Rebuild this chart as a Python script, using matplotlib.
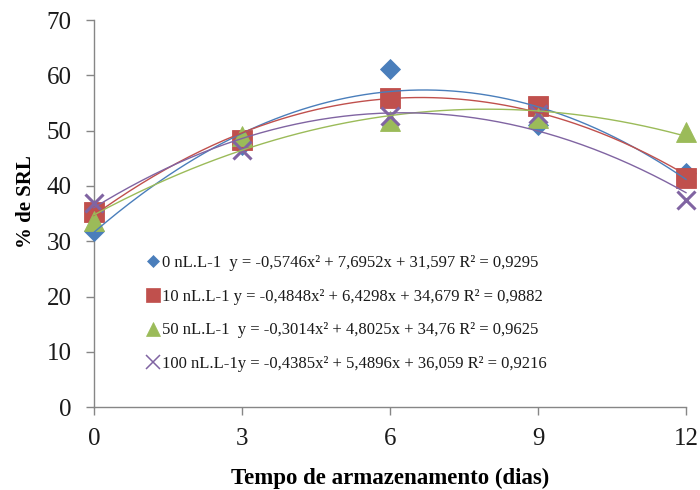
import matplotlib
matplotlib.use("Agg")
import matplotlib.pyplot as plt
from matplotlib.lines import Line2D
import numpy as np

plt.rcParams["font.family"] = ["Liberation Serif", "DejaVu Serif"]

# Storage time (days)
days = [0, 3, 6, 9, 12]

# % de SRL per ethylene dose
doses = ["0 nL.L-1", "10 nL.L-1", "50 nL.L-1", "100 nL.L-1"]
srl_0 = [31.8, 47.5, 61.1, 51.0, 42.3]
srl_10 = [35.3, 48.3, 55.9, 54.5, 41.4]
srl_50 = [33.6, 49.0, 51.8, 52.3, 49.8]
srl_100 = [37.0, 46.5, 52.6, 53.0, 37.4]

# Quadratic trendline coefficients (a, b, c) and R²
coef_0 = (-0.5746, 7.6952, 31.597, 0.9295)
coef_10 = (-0.4848, 6.4298, 34.679, 0.9882)
coef_50 = (-0.3014, 4.8025, 34.76, 0.9625)
coef_100 = (-0.4385, 5.4896, 36.059, 0.9216)

# Legend text as laid out beside each marker
legend_texts = [
    "0 nL.L-1  y = -0,5746x² + 7,6952x + 31,597 R² = 0,9295",
    "10 nL.L-1 y = -0,4848x² + 6,4298x + 34,679 R² = 0,9882",
    "50 nL.L-1  y = -0,3014x² + 4,8025x + 34,76 R² = 0,9625",
    "100 nL.L-1y = -0,4385x² + 5,4896x + 36,059 R² = 0,9216",
]

x_ticks = [0, 3, 6, 9, 12]
y_ticks = [0, 10, 20, 30, 40, 50, 60, 70]

series = [
    (srl_0, coef_0, "#4A7EBB", "D", 10.5),
    (srl_10, coef_10, "#C0504D", "s", 14.5),
    (srl_50, coef_50, "#9BBB59", "^", 15),
    (srl_100, coef_100, "#8064A2", "x", 13.5),
]
legend_marker = {"D": 6.5, "s": 9.5, "^": 9.5, "x": 10}

fig = plt.figure(figsize=(7, 4.9), dpi=100)
ax = fig.add_axes([0.134, 0.169, 0.846, 0.790])

xs = np.linspace(days[0], days[-1], 200)
handles = []
for vals, coef, color, mk, ms in series:
    a, b, c, _r2 = coef
    ax.plot(days, vals, linestyle="none", marker=mk, markersize=ms,
            color=color, markeredgewidth=2.2 if mk == "x" else 0.6,
            markeredgecolor=color, zorder=3, clip_on=False)
    ax.plot(xs, a * xs ** 2 + b * xs + c, color=color, linewidth=1.0,
            zorder=4, clip_on=False)
    handles.append(Line2D([], [], linestyle="none", marker=mk,
                          markersize=legend_marker[mk], color=color,
                          markeredgecolor=color,
                          markeredgewidth=1.1 if mk == "x" else 0.5))

ax.set_xlim(0, 12)
ax.set_ylim(0, 70)
ax.set_xticks(x_ticks)
ax.set_yticks(y_ticks)

for side in ("top", "right"):
    ax.spines[side].set_visible(False)
for side in ("left", "bottom"):
    ax.spines[side].set_color("#868686")
    ax.spines[side].set_linewidth(1.0)
ax.tick_params(axis="both", direction="out", length=6, width=1.0,
               color="#868686", labelsize=18, labelcolor="#1a1a1a")
ax.tick_params(axis="x", pad=9)
ax.tick_params(axis="y", pad=10)

ax.set_xlabel("Tempo de armazenamento (dias)", fontsize=16.5,
              fontweight="bold", labelpad=13)
ax.set_ylabel("% de SRL", fontsize=15, fontweight="bold")
ax.yaxis.set_label_coords(-0.097, 0.53)

leg = ax.legend(handles, legend_texts, loc="upper left",
                bbox_to_anchor=(0.087, 0.393), frameon=False,
                fontsize=12, handlelength=0.9, handletextpad=0.1,
                labelspacing=1.06, borderpad=0, borderaxespad=0)
for t in leg.get_texts():
    t.set_color("#1a1a1a")

fig.savefig("out.png", dpi=100)
